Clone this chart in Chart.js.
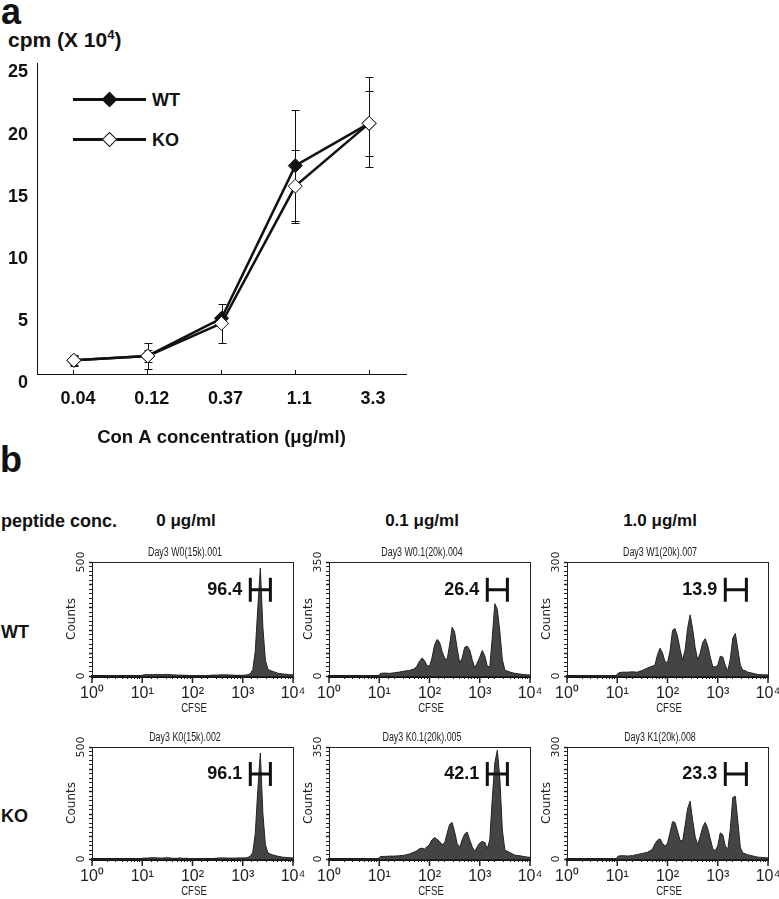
<!DOCTYPE html>
<html>
<head>
<meta charset="utf-8">
<title>Con A and peptide proliferation</title>
<script src="https://cdn.jsdelivr.net/npm/chart.js@4"></script>
<style>
  html, body { margin: 0; padding: 0; background: #fff; overflow: hidden; }
  body { position: relative; width: 779px; height: 899px; font-family: "Liberation Sans", Arial, sans-serif; color: #111; }
  canvas { position: absolute; }
  .lbl { position: absolute; font-weight: bold; font-size: 17px; line-height: 20px; white-space: nowrap; }
  .lbl.c { transform: translateX(-50%); }
  .panel { font-size: 36px; line-height: 36px; }
  sup { font-size: 13px; line-height: 0; }
  .key { position: absolute; left: 73px; width: 73px; height: 3px; background: #111; }
  .key i { position: absolute; left: 31px; top: -4px; width: 9px; height: 9px; transform: rotate(45deg); border: 1px solid #111; }
  .narrow { position: absolute; color: #222; white-space: nowrap; line-height: 14px; transform: translate(-50%, -50%) scaleX(0.74); }
</style>
</head>
<body>
<div class="lbl panel" style="left:1px;top:-6px">a</div>
<div class="lbl" style="left:8px;top:30px;font-size:21px">cpm (X 10<sup>4</sup>)</div>
<div class="key" style="top:98px"><i style="background:#111"></i></div>
<div class="lbl" style="left:152px;top:90px;font-size:18px">WT</div>
<div class="key" style="top:138px"><i style="background:#fff"></i></div>
<div class="lbl" style="left:152px;top:130px;font-size:18px">KO</div>

<div class="lbl panel" style="left:0;top:442px">b</div>
<div class="lbl" style="left:1px;top:511px;font-size:18px">peptide conc.</div>
<div class="lbl c" style="left:186px;top:511px">0 μg/ml</div>
<div class="lbl c" style="left:422px;top:511px">0.1 μg/ml</div>
<div class="lbl c" style="left:660px;top:511px">1.0 μg/ml</div>
<div class="lbl" style="left:1px;top:622px;font-size:18px">WT</div>
<div class="lbl" style="left:1px;top:806px;font-size:18px">KO</div>

<canvas id="conaChart" width="430" height="400" style="left:0;top:50px"></canvas>
<canvas id="histW0" width="275" height="174" style="left:47px;top:540px"></canvas>
<canvas id="histW01" width="275" height="174" style="left:284px;top:540px"></canvas>
<canvas id="histW1" width="275" height="174" style="left:522px;top:540px"></canvas>
<canvas id="histK0" width="275" height="172" style="left:47px;top:725px"></canvas>
<canvas id="histK01" width="275" height="172" style="left:284px;top:725px"></canvas>
<canvas id="histK1" width="275" height="172" style="left:522px;top:725px"></canvas>

<script>
// panel a
const concLabels = ['0.04', '0.12', '0.37', '1.1', '3.3'];
const wtValues = [1.1, 1.45, 4.48, 16.75, 20.15];
const koValues = [1.1, 1.45, 4.07, 15.1, 20.15];
const wtErrLow = [0.7, 1.0, 4.0, 12.3, 16.6];
const wtErrHigh = [1.5, 1.9, 4.75, 21.2, 23.84];
const koErrLow = [0.65, 0.4, 2.52, 12.1, 17.54];
const koErrHigh = [1.45, 2.47, 5.6, 18.0, 22.77];

// panel b, CFSE channel positions shared by all six histograms
const cfseChannels = [1, 3, 9.5, 10.5, 12.6, 16, 20, 25, 32, 40,
  50, 56, 63, 71, 79, 89, 100, 112, 126, 141,
  158, 178, 200, 224, 251, 282, 316, 355, 398, 447,
  501, 562, 631, 708, 794, 891, 1000, 1122, 1259, 1413,
  1585, 1778, 1995, 2239, 2512, 2818, 3162, 3548, 3981, 5012,
  6310, 7943, 10000];
const countsW0 = [0, 0, 1, 5, 6, 6, 7, 6, 7, 5,
  4, 4, 3, 3, 3, 2, 2, 2, 2, 2,
  2, 2, 2, 3, 4, 4, 4, 5, 5, 5,
  5, 4, 4, 3, 3, 3, 3, 4, 6, 10,
  28, 110, 300, 474, 215, 70, 30, 24, 20, 12,
  9, 6, 5];
const countsW01 = [0, 0, 1, 8, 9, 8, 10, 12, 15, 17,
  22, 30, 45, 55, 48, 32, 30, 55, 95, 112,
  105, 75, 55, 50, 95, 150, 135, 85, 40, 55,
  88, 92, 80, 50, 25, 40, 58, 78, 62, 30,
  28, 120, 222, 205, 135, 50, 18, 15, 12, 8,
  6, 4, 3];
const countsW1 = [0, 0, 1, 8, 10, 10, 11, 10, 15, 21,
  26, 28, 55, 73, 62, 38, 35, 65, 120, 125,
  105, 70, 42, 68, 125, 161, 125, 75, 42, 60,
  88, 98, 80, 50, 25, 24, 28, 52, 50, 28,
  13, 45, 100, 112, 70, 28, 15, 14, 10, 7,
  4, 3, 3];
const countsK0 = [0, 0, 1, 4, 4, 6, 5, 4, 6, 3,
  3, 5, 3, 3, 3, 2, 2, 2, 2, 2,
  2, 1, 1, 1, 2, 3, 4, 5, 5, 5,
  4, 4, 4, 4, 5, 5, 5, 5, 7, 12,
  30, 115, 310, 473, 205, 65, 28, 22, 18, 12,
  8, 6, 5];
const countsK01 = [0, 0, 1, 8, 8, 9, 9, 10, 12, 16,
  22, 26, 32, 34, 31, 38, 45, 60, 67, 62,
  55, 45, 50, 80, 108, 114, 85, 48, 36, 60,
  78, 84, 60, 38, 24, 38, 50, 55, 52, 32,
  60, 190, 300, 340, 250, 90, 28, 24, 20, 12,
  10, 7, 5];
const countsK1 = [0, 0, 1, 8, 9, 8, 9, 12, 15, 18,
  26, 40, 50, 54, 42, 35, 42, 70, 100, 98,
  75, 50, 48, 90, 135, 155, 105, 60, 38, 60,
  85, 98, 82, 55, 28, 22, 35, 70, 65, 35,
  25, 80, 165, 168, 100, 30, 16, 14, 11, 8,
  5, 4, 3];

const histIds = ['histW0', 'histW01', 'histW1', 'histK0', 'histK01', 'histK1'];
const histTitles = ['Day3 W0(15k).001', 'Day3 W0.1(20k).004', 'Day3 W1(20k).007',
  'Day3 K0(15k).002', 'Day3 K0.1(20k).005', 'Day3 K1(20k).008'];
const histCounts = [countsW0, countsW01, countsW1, countsK0, countsK01, countsK1];
const histMax = [500, 350, 300, 500, 350, 300];
const histPercent = ['96.4', '26.4', '13.9', '96.1', '42.1', '23.3'];
const gateLow = [1413, 1413, 1413, 1413, 1413, 1413];
const gateHigh = [3548, 3548, 3715, 3548, 3548, 3715];
const gateLevel = [378, 265, 227, 380, 266, 228];
const decadeLabels = { 1: '10⁰', 10: '10¹', 100: '10²', 1000: '10³', 10000: '10⁴' };

const SANS = '"Liberation Sans", Arial, sans-serif';

// error bars go under the diamonds
const errorBars = {
  id: 'errorBars',
  beforeDatasetsDraw(chart) {
    const c = chart.ctx;
    const x = chart.scales.x, y = chart.scales.y;
    c.save();
    c.strokeStyle = '#111';
    c.lineWidth = 1;
    [[wtErrLow, wtErrHigh], [koErrLow, koErrHigh]].forEach(function (pair) {
      concLabels.forEach(function (lab, i) {
        const px = Math.round(x.getPixelForValue(i)) + 0.5;
        const lo = Math.round(y.getPixelForValue(pair[0][i])) + 0.5;
        const hi = Math.round(y.getPixelForValue(pair[1][i])) + 0.5;
        c.beginPath();
        c.moveTo(px, lo); c.lineTo(px, hi);
        c.moveTo(px - 4, lo); c.lineTo(px + 4, lo);
        c.moveTo(px - 4, hi); c.lineTo(px + 4, hi);
        c.stroke();
      });
    });
    c.restore();
  }
};

new Chart(document.getElementById('conaChart').getContext('2d'), {
  type: 'line',
  plugins: [errorBars],
  data: {
    labels: concLabels,
    datasets: [
      { label: 'WT', data: wtValues, order: 2, borderColor: '#111', borderWidth: 2.5, tension: 0,
        pointStyle: 'rectRot', pointRadius: 7, pointBackgroundColor: '#111', pointBorderColor: '#111', pointBorderWidth: 1 },
      { label: 'KO', data: koValues, order: 1, borderColor: '#111', borderWidth: 2.5, tension: 0,
        pointStyle: 'rectRot', pointRadius: 7, pointBackgroundColor: '#fff', pointBorderColor: '#111', pointBorderWidth: 1 }
    ]
  },
  options: {
    responsive: false,
    animation: false,
    layout: { padding: { top: 13, right: 24 } },
    plugins: { legend: { display: false }, tooltip: { enabled: false } },
    scales: {
      x: {
        offset: true,
        afterFit(s) { s.height = 76; s.paddingLeft = 0; s.paddingRight = 0; },
        border: { color: '#111' },
        grid: { offset: false, drawOnChartArea: false, tickLength: -4, tickColor: '#111' },
        ticks: { color: '#111', font: { family: SANS, size: 18, weight: 'bold' }, padding: 18, labelOffset: 4, maxRotation: 0 },
        title: { display: true, text: 'Con A concentration (μg/ml)', color: '#111', font: { family: SANS, size: 18.5, weight: 'bold' }, padding: { top: 0, bottom: 1 } }
      },
      y: {
        min: 0, max: 25,
        afterFit(s) { s.width = 37; s.paddingTop = 0; s.paddingBottom = 0; },
        border: { color: '#111' },
        grid: { drawOnChartArea: false, drawTicks: false },
        ticks: { stepSize: 5, color: '#111', font: { family: SANS, size: 18, weight: 'bold' }, padding: 9, labelOffset: 9.5 }
      }
    }
  }
});

// frame, long decade ticks, region marker and its percentage
const facsOverlay = {
  id: 'facsOverlay',
  afterDatasetsDraw(chart, args, opts) {
    const c = chart.ctx;
    const a = chart.chartArea;
    const x = chart.scales.x, y = chart.scales.y;
    c.save();
    c.strokeStyle = '#222';
    c.lineWidth = 1;
    c.strokeRect(a.left + 0.5, a.top + 0.5, a.right - a.left, a.bottom - a.top);
    c.lineWidth = 1.5;
    Object.keys(decadeLabels).forEach(function (v) {
      const px = x.getPixelForValue(Number(v));
      c.beginPath(); c.moveTo(px, a.bottom); c.lineTo(px, a.bottom + 7); c.stroke();
    });
    const x1 = x.getPixelForValue(opts.low), x2 = x.getPixelForValue(opts.high);
    const gy = y.getPixelForValue(opts.level);
    c.strokeStyle = '#111';
    c.lineWidth = 3;
    c.beginPath();
    c.moveTo(x1, gy - 12); c.lineTo(x1, gy + 12);
    c.moveTo(x2, gy - 12); c.lineTo(x2, gy + 12);
    c.moveTo(x1, gy); c.lineTo(x2, gy);
    c.stroke();
    c.fillStyle = '#111';
    c.font = 'bold 18px ' + SANS;
    c.textAlign = 'right';
    c.textBaseline = 'middle';
    c.fillText(opts.text, x1 - 8, gy);
    c.restore();
  }
};

// the FACS file names and CFSE use a condensed face, no such font here so squeeze real text
function narrowLabel(text, cx, cy, size) {
  const d = document.createElement('div');
  d.className = 'narrow';
  d.textContent = text;
  d.style.left = cx + 'px';
  d.style.top = cy + 'px';
  d.style.fontSize = size + 'px';
  document.body.appendChild(d);
}

histIds.forEach(function (id, n) {
  const counts = histCounts[n];
  const canvas = document.getElementById(id);
  const chart = new Chart(canvas.getContext('2d'), {
    type: 'line',
    plugins: [facsOverlay],
    data: {
      datasets: [{
        data: cfseChannels.map(function (ch, i) { return { x: ch, y: counts[i] }; }),
        borderColor: '#222', borderWidth: 1, backgroundColor: '#444',
        fill: 'origin', pointRadius: 0, tension: 0
      }]
    },
    options: {
      responsive: false,
      animation: false,
      layout: { padding: { top: 22, right: 29 } },
      plugins: {
        legend: { display: false },
        tooltip: { enabled: false },
        facsOverlay: { low: gateLow[n], high: gateHigh[n], level: gateLevel[n], text: histPercent[n] }
      },
      scales: {
        x: {
          type: 'logarithmic', min: 1, max: 10000,
          afterFit(s) { s.height = 38; s.paddingLeft = 0; s.paddingRight = 0; },
          border: { color: '#111', width: 3 },
          grid: { drawOnChartArea: false, tickLength: 3, tickColor: '#222' },
          ticks: {
            autoSkip: false, maxRotation: 0, color: '#222', padding: 5,
            font: { family: SANS, size: 16 },
            callback(v) { return decadeLabels[v] || ''; }
          }
        },
        y: {
          min: 0, max: histMax[n],
          afterFit(s) { s.width = 45; s.paddingTop = 0; s.paddingBottom = 0; },
          border: { color: '#222' },
          grid: {
            drawOnChartArea: false, tickLength: 3, tickColor: '#222',
            tickWidth(ctx) { return ctx.index % 5 === 0 ? 1.5 : 1; }
          },
          ticks: {
            count: 26, autoSkip: false, minRotation: 90, maxRotation: 90, crossAlign: 'center', padding: -3,
            color: '#222', font: { family: '"DejaVu Sans", sans-serif', size: 11 },
            callback(v, i, all) { return i === 0 || i === all.length - 1 ? String(v) : ''; }
          },
          title: { display: true, text: 'Counts', color: '#222', font: { family: '"DejaVu Sans", sans-serif', size: 12 }, padding: { top: 18, bottom: 0 } }
        }
      }
    }
  });
  const left = parseInt(canvas.style.left), top = parseInt(canvas.style.top);
  const area = chart.chartArea;
  narrowLabel(histTitles[n], left + (area.left + area.right) / 2 - 8, top + area.top - 10, 12);
  narrowLabel('CFSE', left + (area.left + area.right) / 2 + 1, top + area.bottom + 32, 13);
});
</script>
</body>
</html>
